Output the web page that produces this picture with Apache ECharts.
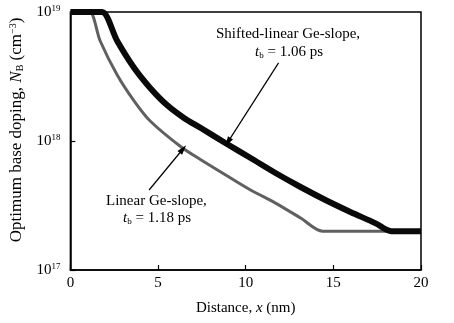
<!DOCTYPE html>
<html>
<head>
<meta charset="utf-8">
<script src="https://cdn.jsdelivr.net/npm/echarts@6/dist/echarts.min.js"></script>
<style>
html,body{margin:0;padding:0;background:#fff;}
#chart{width:454px;height:323px;}
</style>
</head>
<body>
<div id="chart"></div>
<script>
// Distance (nm) and optimum base doping (cm^-3) for the two Ge profiles
var linearX = [0, 0.6, 1.1, 1.70, 2.67, 3.64, 4.55, 6.36, 7.44, 8.86, 10.28, 11.70, 13.13, 14.38, 15.0, 17.0, 20];
var linearY = [1e19, 1e19, 1e19, 5.96e18, 3.25e18, 2.04e18, 1.43e18, 8.9e17, 7.16e17, 5.45e17, 4.17e17, 3.30e17, 2.53e17, 2.0e17, 2.0e17, 2.0e17, 2.0e17];

var shiftedX = [0, 1.2, 1.8, 2.67, 3.64, 4.55, 5.51, 6.48, 7.44, 8.86, 10.28, 11.70, 13.13, 14.55, 15.97, 17.39, 18.3, 18.8, 20];
var shiftedY = [1e19, 1e19, 1e19, 5.96e18, 3.68e18, 2.58e18, 1.90e18, 1.51e18, 1.26e18, 9.6e17, 7.38e17, 5.65e17, 4.40e17, 3.49e17, 2.82e17, 2.31e17, 2.0e17, 2.0e17, 2.0e17];

var xTicks = [0, 5, 10, 15, 20];

// Arrow endpoints (tail, head) in data units
var shiftedArrow = [[11.875, 4.03e18], [8.98, 9.8e17]];
var linearArrow = [[4.49, 4.17e17], [6.42, 8.67e17]];

function pairs(xs, ys) {
  return xs.map(function (x, i) { return [x, ys[i]]; });
}

var serif = '"Liberation Serif", "DejaVu Serif", serif';

var chart = echarts.init(document.getElementById('chart'), null, {renderer: 'canvas'});

function arrowLine(pts) {
  return {
    silent: true,
    symbol: ['none', 'triangle'],
    symbolSize: [6, 10],
    lineStyle: {color: '#000', width: 1.2, type: 'solid'},
    label: {show: false},
    emphasis: {disabled: true},
    data: [[{coord: pts[0]}, {coord: pts[1]}]]
  };
}

var subRich = {
  i: {font: 'italic 15px ' + serif, fill: '#000'},
  sub: {font: '9px ' + serif, fill: '#000', padding: [7, 0, 0, 0]}
};

chart.setOption({
  animation: false,
  backgroundColor: '#fff',
  grid: {left: 69, right: 33, top: 12, bottom: 53, show: true, borderColor: '#000', borderWidth: 1.5, backgroundColor: 'transparent'},
  xAxis: {
    type: 'value',
    min: 0, max: 20, interval: 5,
    name: 'Distance, {i|x} (nm)',
    nameLocation: 'middle',
    nameGap: 31,
    nameTextStyle: {fontFamily: serif, fontSize: 15, color: '#000',
      rich: {i: {fontFamily: serif, fontSize: 15, fontStyle: 'italic', color: '#000'}}},
    axisLine: {show: true, lineStyle: {color: '#000', width: 1.5}},
    axisTick: {show: true, inside: true, length: 5, lineStyle: {color: '#000', width: 1.2}},
    splitLine: {show: false},
    axisLabel: {
      fontFamily: serif, fontSize: 15, color: '#000', margin: 6,
      formatter: function (v) { return xTicks.indexOf(v) >= 0 ? String(v) : ''; }
    }
  },
  yAxis: {
    type: 'log',
    logBase: 10,
    min: 1e17, max: 1e19,
    name: 'Optimum base doping, {i|N}{sub|B} (cm{sup|−3})',
    nameLocation: 'middle',
    nameRotate: 90,
    nameGap: 44,
    nameTextStyle: {fontFamily: serif, fontSize: 17, color: '#000', padding: [0, 0, 0, 22],
      rich: {
        i: {fontFamily: serif, fontSize: 17, fontStyle: 'italic', color: '#000'},
        sub: {fontFamily: serif, fontSize: 10, color: '#000', padding: [7, 0, 0, 0]},
        sup: {fontFamily: serif, fontSize: 10, color: '#000', padding: [0, 0, 8, 0]}
      }},
    axisLine: {show: true, lineStyle: {color: '#000', width: 1.5}},
    axisTick: {show: true, inside: true, length: 5, lineStyle: {color: '#000', width: 1.2}},
    minorTick: {show: false},
    splitLine: {show: false},
    axisLabel: {
      fontFamily: serif, fontSize: 15, color: '#000', margin: 10,
      formatter: function (v) {
        var e = Math.round(Math.log10(v));
        return '{b|10}{s|' + e + '}';
      },
      rich: {
        b: {fontFamily: serif, fontSize: 15, color: '#000'},
        s: {fontFamily: serif, fontSize: 9, color: '#000', padding: [0, 0, 7, 0]}
      }
    }
  },
  series: [
    {
      name: 'Linear Ge-slope',
      type: 'line',
      data: pairs(linearX, linearY),
      showSymbol: false,
      symbol: 'none',
      smooth: 0.3,
      lineStyle: {color: '#606060', width: 3},
      z: 2,
      markLine: arrowLine(linearArrow)
    },
    {
      name: 'Shifted-linear Ge-slope',
      type: 'line',
      data: pairs(shiftedX, shiftedY),
      showSymbol: false,
      symbol: 'none',
      smooth: 0.3,
      lineStyle: {color: '#0a0a0a', width: 6},
      z: 3,
      markLine: arrowLine(shiftedArrow)
    }
  ],
  graphic: [
    {
      type: 'text', left: 216, top: 27,
      style: {text: 'Shifted-linear Ge-slope,', font: '15px ' + serif, fill: '#000'}
    },
    {
      type: 'text', left: 255, top: 45,
      style: {text: '{i|t}{sub|b} = 1.06 ps', font: '15px ' + serif, fill: '#000', rich: subRich}
    },
    {
      type: 'text', left: 106, top: 194,
      style: {text: 'Linear Ge-slope,', font: '15px ' + serif, fill: '#000'}
    },
    {
      type: 'text', left: 123, top: 211,
      style: {text: '{i|t}{sub|b} = 1.18 ps', font: '15px ' + serif, fill: '#000', rich: subRich}
    }
  ]
});
</script>
</body>
</html>
